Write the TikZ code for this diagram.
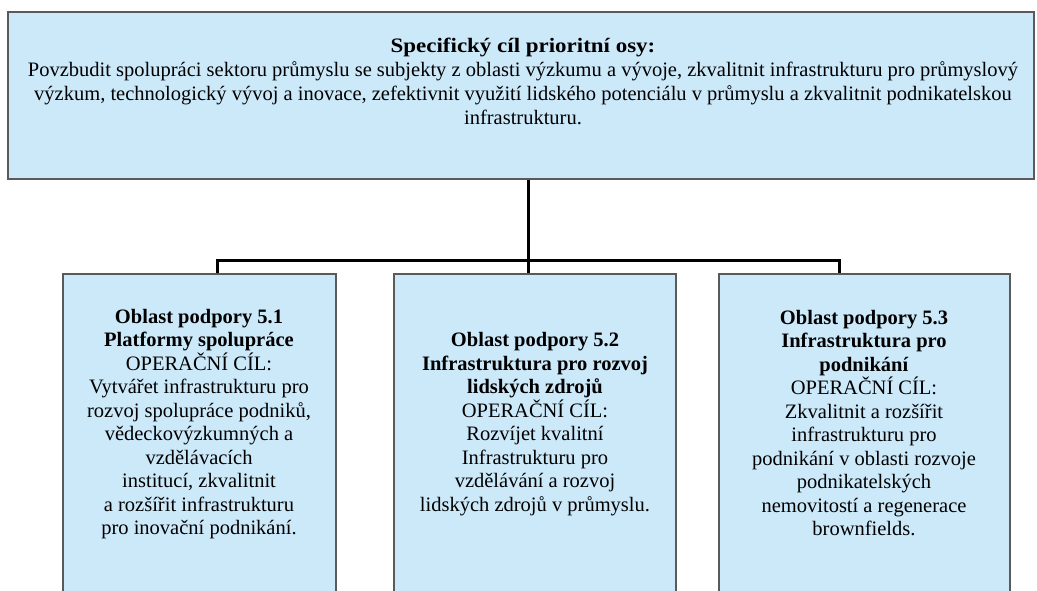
\documentclass[tikz,border=0pt]{standalone}
\usepackage{fontspec}
\setmainfont{Liberation Serif}
\definecolor{boxfill}{RGB}{204,233,250}
\definecolor{boxline}{RGB}{90,90,90}
\begin{document}
\begin{tikzpicture}[x=1pt,y=-1pt,
  box/.style={draw=boxline, line width=1.6pt, fill=boxfill, inner sep=0pt},
  txt/.style={align=center, inner sep=0pt, font=\fontsize{20.5}{23.5}\selectfont},
  toptxt/.style={align=center, inner sep=0pt, font=\fontsize{20.5}{24}\selectfont},
  conn/.style={draw=black, line width=3pt}]
\useasboundingbox (0,0) rectangle (1037,590);
\clip (0,0) rectangle (1037,590);
\fill[white] (0,0) rectangle (1037,590);
% boxes
\node[box, minimum width=1026pt, minimum height=167pt] (top) at (521,95.5) {};
\node[box, minimum width=273pt, minimum height=340pt] (b1) at (199.5,444) {};
\node[box, minimum width=282pt, minimum height=340pt] (b2) at (535,444) {};
\node[box, minimum width=291pt, minimum height=340pt] (b3) at (864.5,444) {};
% texts
\node[toptxt] (ttop) at (523,81) {\scalebox{1.12}[1]{\textbf{Specifický cíl prioritní osy:}}\\
Povzbudit spolupráci sektoru průmyslu se subjekty z oblasti výzkumu a vývoje, zkvalitnit infrastrukturu pro průmyslový\\
výzkum, technologický vývoj a inovace, zefektivnit využití lidského potenciálu v průmyslu a zkvalitnit podnikatelskou\\
infrastrukturu.};
\node[txt] (t1) at (199,424) {\textbf{Oblast podpory 5.1}\\
\textbf{Platformy spolupráce}\\
OPERAČNÍ CÍL:\\
Vytvářet infrastrukturu pro\\
rozvoj spolupráce podniků,\\
vědeckovýzkumných a\\
vzdělávacích\\
institucí, zkvalitnit\\
a rozšířit infrastrukturu\\
pro inovační podnikání.};
\node[txt] (t2) at (535,424) {\textbf{Oblast podpory 5.2}\\
\textbf{Infrastruktura pro rozvoj}\\
\textbf{lidských zdrojů}\\
OPERAČNÍ CÍL:\\
Rozvíjet kvalitní\\
Infrastrukturu pro\\
vzdělávání a rozvoj\\
lidských zdrojů v průmyslu.};
\node[txt] (t3) at (864,423) {\textbf{Oblast podpory 5.3}\\
\textbf{Infrastruktura pro}\\
\textbf{podnikání}\\
OPERAČNÍ CÍL:\\
Zkvalitnit a rozšířit\\
infrastrukturu pro\\
podnikání v oblasti rozvoje\\
podnikatelských\\
nemovitostí a regenerace\\
brownfields.};
% connectors
\coordinate (hub) at (528,260);
\coordinate (lft) at (217,260);
\coordinate (rgt) at (839,260);
\draw[conn] (hub |- top.south) -- (hub) -- (hub |- b2.north);
\draw[conn] (lft |- b1.north) -- (lft) -- (rgt) -- (rgt |- b3.north);
\end{tikzpicture}
\end{document}
